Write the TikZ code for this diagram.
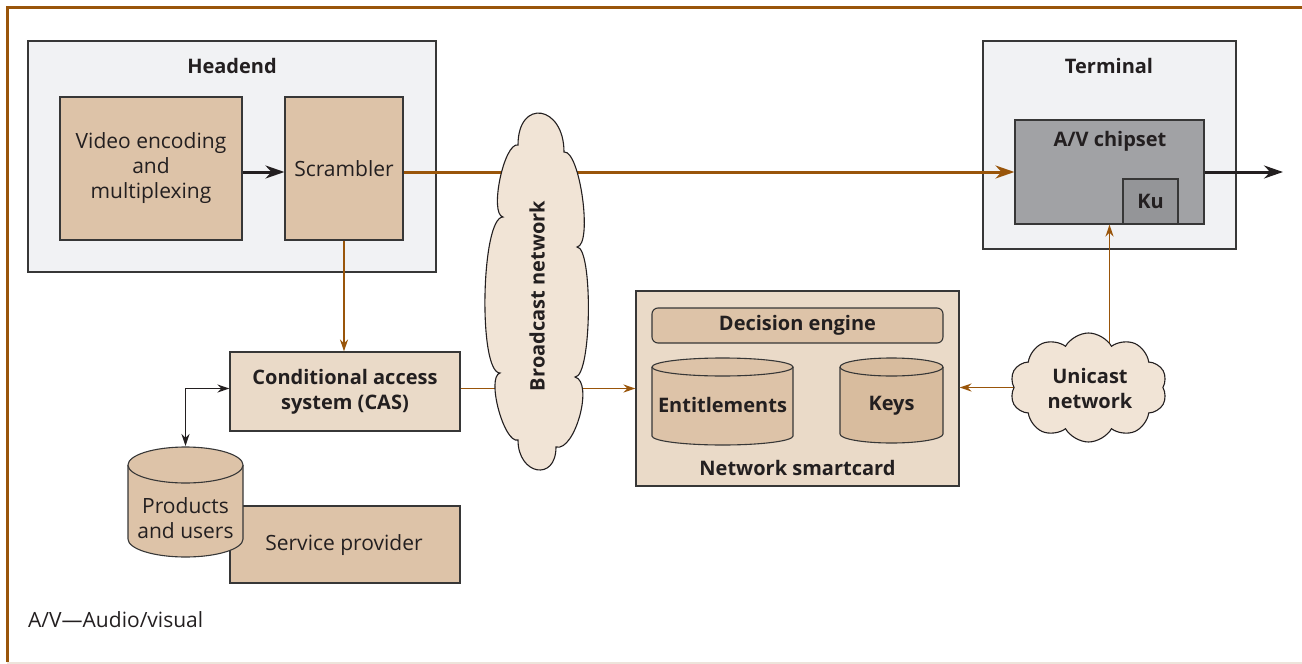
\documentclass[tikz,border=0pt]{standalone}
\usepackage{fontspec}
\setmainfont{Open Sans}
\usetikzlibrary{shapes.symbols,arrows.meta,calc}
\definecolor{brn}{RGB}{153,85,10}
\definecolor{tanc}{RGB}{221,195,168}
\definecolor{ltan}{RGB}{234,218,200}
\definecolor{cloudc}{RGB}{241,228,214}
\definecolor{gbox}{RGB}{241,242,244}
\definecolor{chipc}{RGB}{161,162,165}
\definecolor{kuc}{RGB}{148,149,152}
\definecolor{keyc}{RGB}{216,188,158}
\definecolor{ink}{RGB}{35,31,32}
\definecolor{edgec}{RGB}{55,55,55}
\definecolor{botline}{RGB}{237,228,219}
\tikzset{
  box/.style={draw=edgec, line width=1.1pt, inner sep=0pt, align=center, text=ink, font=\fontsize{21}{25}\selectfont},
  bbox/.style={box, font=\fontsize{20}{25}\selectfont\bfseries},
  lbl/.style={inner sep=0pt, text=ink, align=center, font=\fontsize{20}{25}\selectfont\bfseries},
  mainarrow/.style={brn, line width=3pt, -{Stealth[length=19pt,width=13pt]}},
  darkarrow/.style={ink, line width=3pt, -{Stealth[length=19pt,width=13pt]}},
  thinarrow/.style={brn, line width=1.5pt, -{Stealth[length=12pt,width=8pt]}},
  thindark/.style={ink, line width=1.4pt, {Stealth[length=12pt,width=8pt]}-{Stealth[length=12pt,width=8pt]}},
  cloudline/.style={draw=ink, line width=1.1pt, fill=cloudc},
  cloudnode/.style={cloud, cloud ignores aspect, cloudline, inner sep=0pt}
}
\begin{document}
\begin{tikzpicture}[x=1pt,y=-1pt]
\useasboundingbox (0,0) rectangle (1302,664);
% frame
\draw[botline, line width=2pt] (7,663) -- (1302,663);
\draw[brn, line width=3pt] (7,662) -- (7,7) -- (1302,7);

% headend
\node[box, fill=gbox, minimum width=408pt, minimum height=231pt] (head) at (232,156.5) {};
\node[lbl] (headt) at (232,66) {Headend};
\node[box, fill=tanc, minimum width=182pt, minimum height=143pt] (vid) at (151,168.5) {Video encoding\\and\\multiplexing};
\node[box, fill=tanc, minimum width=118pt, minimum height=143pt] (scr) at (344,168.5) {Scrambler};

% terminal
\node[box, fill=gbox, minimum width=253pt, minimum height=208pt] (term) at (1109.5,145) {};
\node[lbl] (termt) at (1109,66) {Terminal};
\node[box, fill=chipc, minimum width=189pt, minimum height=104pt] (chip) at (1109.5,172) {};
\node[lbl] (chipt) at (1110,141) {A/V chipset};
\node[bbox, fill=kuc, minimum width=55pt, minimum height=45pt] (ku) at (1150.5,201.5) {Ku};
\coordinate (out) at (1283,172);

% CAS and service provider
\node[bbox, fill=ltan, minimum width=230pt, minimum height=79pt] (cas) at (345,391.5) {Conditional access\\system (CAS)};
\node[box, fill=tanc, minimum width=230pt, minimum height=77pt] (sp) at (345,544.5) {};
\node[inner sep=0pt, text=ink, font=\fontsize{21}{25}\selectfont] (spt) at (344,545) {Service provider};

% products cylinder
\fill[tanc] (128,465) -- (128,539) arc[start angle=180,end angle=360,x radius=57.5pt,y radius=18pt] -- (243,465) -- cycle;
\draw[edgec, line width=1.1pt] (128,465) -- (128,539) arc[start angle=180,end angle=360,x radius=57.5pt,y radius=18pt] -- (243,465);
\draw[edgec, line width=1.1pt, fill=tanc] (185.5,465) ellipse[x radius=57.5pt, y radius=18pt];
\node[inner sep=0pt, text=ink, align=center, font=\fontsize{21}{25}\selectfont] (prod) at (185.5,518) {Products\\and users};
\coordinate (prodtop) at (185.5,446);

% smartcard
\node[box, fill=ltan, minimum width=323pt, minimum height=195pt] (sc) at (797.5,388.5) {};
\node[lbl] (sct) at (797.5,468) {Network smartcard};
\node[bbox, fill=tanc, rounded corners=6pt, minimum width=291pt, minimum height=35pt] (de) at (797.5,325.5) {Decision engine};
% entitlements cylinder
\fill[tanc] (652,367) -- (652,436) arc[start angle=180,end angle=360,x radius=70.5pt,y radius=9pt] -- (793,367) -- cycle;
\draw[edgec, line width=1.1pt] (652,367) -- (652,436) arc[start angle=180,end angle=360,x radius=70.5pt,y radius=9pt] -- (793,367);
\draw[edgec, line width=1.1pt, fill=tanc] (722.5,367) ellipse[x radius=70.5pt, y radius=9pt];
\node[lbl] (ent) at (722.5,405) {Entitlements};
% keys cylinder
\fill[keyc] (840,367) -- (840,434) arc[start angle=180,end angle=360,x radius=51.5pt,y radius=9pt] -- (943,367) -- cycle;
\draw[edgec, line width=1.1pt] (840,367) -- (840,434) arc[start angle=180,end angle=360,x radius=51.5pt,y radius=9pt] -- (943,367);
\draw[edgec, line width=1.1pt, fill=keyc] (891.5,367) ellipse[x radius=51.5pt, y radius=9pt];
\node[lbl] (keys) at (891.5,406) {Keys};

\coordinate (unic) at (1088.5,387.5);

% connectors
\draw[darkarrow] (vid.east |- chip.west) -- (scr.west |- chip.west);
\draw[mainarrow] (scr.east |- chip.west) -- (chip.west);
\draw[darkarrow] (chip.east) -- (out);
\draw[thinarrow] (scr.south) -- (cas.north -| scr.south);
\draw[thinarrow] (cas.east |- sc.west) -- (sc.west);
\draw[thindark] (prodtop) |- ($(cas.west)+(0,-3)$);
\draw[thinarrow] (unic -| chip.south) -- (chip.south);
\draw[thinarrow] (unic) -- (sc.east |- unic);

% broadcast cloud (drawn outline)
\path[cloudline] (518,145)
  .. controls (518,98) and (564,105) .. (564,152)
  .. controls (580,150) and (593,245) .. (577,247)
  .. controls (593,247) and (592,377) .. (575,377)
  .. controls (594,382) and (575,452) .. (556,447)
  .. controls (556,482) and (518,475) .. (518,440)
  .. controls (504,444) and (486,377) .. (500,373)
  .. controls (478,373) and (481,217) .. (503,217)
  .. controls (489,214) and (504,142) .. (518,145) -- cycle;
\node[lbl, rotate=90] (bct) at (537,296) {Broadcast network};
% unicast cloud
\node[cloudnode, cloud puffs=10, cloud puff arc=120, minimum width=157pt, minimum height=109pt] (uni) at (unic) {};
\node[lbl] (unit) at (1090,388) {Unicast\\network};

% legend
\node[anchor=west, inner sep=0pt, text=ink, font=\fontsize{21}{25}\selectfont] (leg) at (28,620) {A/V—Audio/visual};
\end{tikzpicture}
\end{document}
